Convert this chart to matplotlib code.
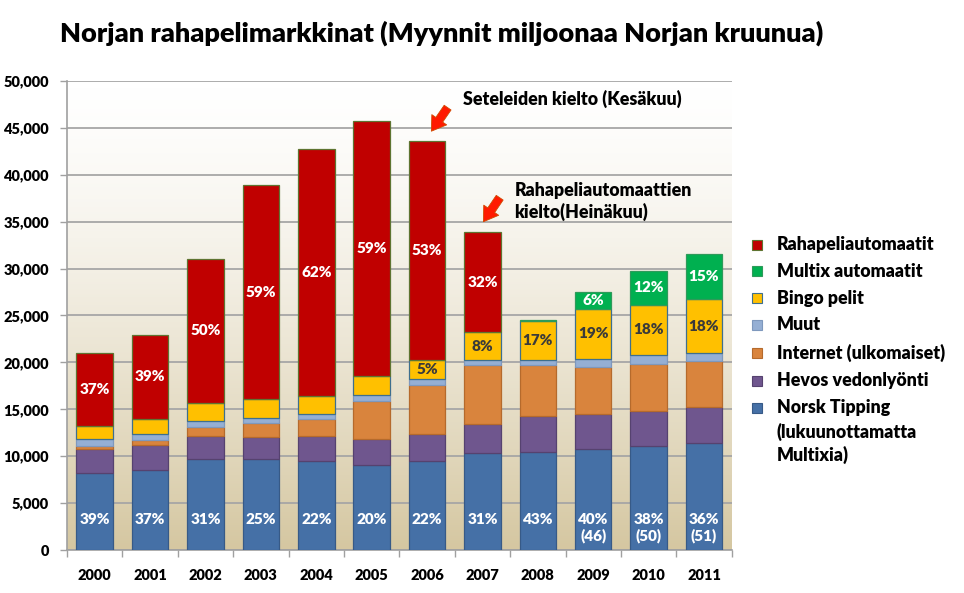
import matplotlib

matplotlib.use("Agg")

import matplotlib.pyplot as plt
import numpy as np
from matplotlib.colors import LinearSegmentedColormap
from matplotlib.patches import Rectangle
from matplotlib.ticker import FuncFormatter, FixedLocator

plt.rcParams["font.family"] = ["Lato", "DejaVu Sans"]
plt.rcParams["font.weight"] = "bold"

years = ["2000", "2001", "2002", "2003", "2004", "2005",
         "2006", "2007", "2008", "2009", "2010", "2011"]

# millions of NOK
norsk_tipping = [8200, 8500, 9670, 9670, 9520, 9100, 9520, 10300, 10480, 10800, 11120, 11370]
hevos = [2570, 2660, 2450, 2380, 2630, 2770, 2810, 3170, 3770, 3670, 3700, 3840]
internet = [320, 600, 1030, 1450, 1820, 4010, 5260, 6290, 5440, 5010, 4980, 4970]
muut = [710, 610, 600, 600, 560, 640, 610, 530, 530, 920, 990, 820]
bingo = [1400, 1630, 1920, 1960, 1850, 2030, 2060, 2910, 4160, 5330, 5360, 5730]
multix = [0, 0, 0, 0, 0, 0, 0, 0, 110, 1740, 3560, 4790]
rahapeli = [7830, 8900, 15390, 22820, 26320, 27150, 23310, 10700, 0, 0, 0, 0]

nt_labels = ["39%", "37%", "31%", "25%", "22%", "20%", "22%", "31%", "43%",
             "40%\n(46)", "38%\n(50)", "36%\n(51)"]
bingo_labels = ["", "", "", "", "", "", "5%", "8%", "17%", "19%", "18%", "18%"]
multix_labels = ["", "", "", "", "", "", "", "", "", "6%", "12%", "15%"]
rahapeli_labels = ["37%", "39%", "50%", "59%", "62%", "59%", "53%", "32%", "", "", "", ""]

series = [
    ("Norsk Tipping\n(lukuunottamatta\nMultixia)", norsk_tipping, "#4570A6", "#375A87"),
    ("Hevos vedonlyönti", hevos, "#6F568E", "#56426F"),
    ("Internet (ulkomaiset)", internet, "#D9843D", "#B56A2C"),
    ("Muut", muut, "#95AFD4", "#7E98BD"),
    ("Bingo pelit", bingo, "#FFC000", "#3E6F8E"),
    ("Multix automaatit", multix, "#00B050", "#2E9A5A"),
    ("Rahapeliautomaatit", rahapeli, "#C00000", "#5E7431"),
]

fig = plt.figure(figsize=(9.64, 5.93), dpi=100)
ax = fig.add_axes([0.0695, 0.0725, 0.6895, 0.791])

# beige gradient behind the plot area
grad = np.linspace(0, 1, 256) ** 1.4
grad = grad[:, None]
cmap = LinearSegmentedColormap.from_list("bg", ["#FFFFFF", "#D5C7A1"])
ax.imshow(grad, extent=(0, 1, 0, 1), transform=ax.transAxes, aspect="auto",
          cmap=cmap, origin="upper", zorder=0)

x = np.arange(len(years))
bottom = np.zeros(len(years))
tops = {}
for name, values, color, edge in series:
    vals = np.array(values, dtype=float)
    mask = vals > 0
    ax.bar(x[mask], vals[mask], width=0.66, bottom=bottom[mask], color=color,
           edgecolor=edge, linewidth=0.9, zorder=3)
    tops[name] = (bottom.copy(), bottom + vals)
    bottom = bottom + vals

# labels inside segments
for i, lab in enumerate(nt_labels):
    ax.text(x[i], 3950, lab, ha="center", va="top", color="white",
            fontsize=11, fontweight="heavy", linespacing=1.2, zorder=5)

label_sets = [
    ("Bingo pelit", bingo_labels, "#3A3A3A"),
    ("Multix automaatit", multix_labels, "white"),
    ("Rahapeliautomaatit", rahapeli_labels, "white"),
]
for name, labels, color in label_sets:
    lo, hi = tops[name]
    for i, lab in enumerate(labels):
        if lab:
            ax.text(x[i], (lo[i] + hi[i]) / 2, lab, ha="center", va="center",
                    color=color, fontsize=11, fontweight="heavy", zorder=5)

ax.set_xlim(-0.5, len(years) - 0.5)
ax.set_ylim(0, 50000)
ax.yaxis.set_major_locator(FixedLocator(np.arange(0, 50001, 5000)))
ax.yaxis.set_major_formatter(FuncFormatter(lambda v, _: f"{v:,.0f}"))
ax.set_xticks(x)
ax.set_xticklabels(years)
ax.xaxis.set_minor_locator(FixedLocator(np.arange(-0.5, len(years), 1)))
ax.tick_params(axis="x", which="major", length=0, pad=14, labelsize=10.5)
ax.tick_params(axis="x", which="minor", length=5, color="#A0A0A0", width=1)
ax.tick_params(axis="y", length=5, color="#A0A0A0", width=1, labelsize=10.5, pad=8)
for lab in ax.get_xticklabels() + ax.get_yticklabels():
    lab.set_fontweight("heavy")

ax.grid(axis="y", color="#A6A6A6", linewidth=1.3, zorder=1)
ax.set_axisbelow(True)
for side in ["top", "right"]:
    ax.spines[side].set_visible(False)
for side in ["left", "bottom"]:
    ax.spines[side].set_color("#A0A0A0")
    ax.spines[side].set_linewidth(1.2)

# event arrows
arrow_style = dict(arrowstyle="simple,head_width=1.3,head_length=1.0,tail_width=0.6",
                   facecolor="#FF1A00", edgecolor="#D04A00", linewidth=0.6)
ax.annotate("", xy=(6.05, 44400), xytext=(6.40, 47400),
            arrowprops=arrow_style, zorder=6)
ax.annotate("", xy=(6.99, 34750), xytext=(7.34, 37800),
            arrowprops=arrow_style, zorder=6)
ax.text(6.65, 48100, "Seteleiden kielto (Kesäkuu)", ha="left", va="center",
        fontsize=12.8, fontweight="heavy", color="black", zorder=6)
ax.text(7.58, 37150, "Rahapeliautomaattien\nkielto(Heinäkuu)", ha="left", va="center",
        fontsize=12.8, fontweight="heavy", color="black", linespacing=1.3, zorder=6)

fig.text(0.062, 0.944, "Norjan rahapelimarkkinat (Myynnit miljoonaa Norjan kruunua)",
         ha="left", va="center", fontsize=19.5, fontweight="heavy", color="black")

# legend drawn by hand so the first line of a wrapped label lines up with its square
legend_order = list(reversed(series))
row_y = [0.587, 0.543, 0.497, 0.452, 0.405, 0.358, 0.312]
line_step = 0.0396
for (name, values, color, edge), yy in zip(legend_order, row_y):
    fig.patches.append(Rectangle((0.780, yy - 0.0085), 0.0105, 0.017,
                                 transform=fig.transFigure, facecolor=color,
                                 edgecolor=edge, linewidth=0.8))
    for k, line in enumerate(name.split("\n")):
        fig.text(0.806, yy - k * line_step, line, ha="left", va="center",
                 fontsize=12.8, fontweight="heavy", transform=fig.transFigure)

fig.savefig("out.png", dpi=100)
